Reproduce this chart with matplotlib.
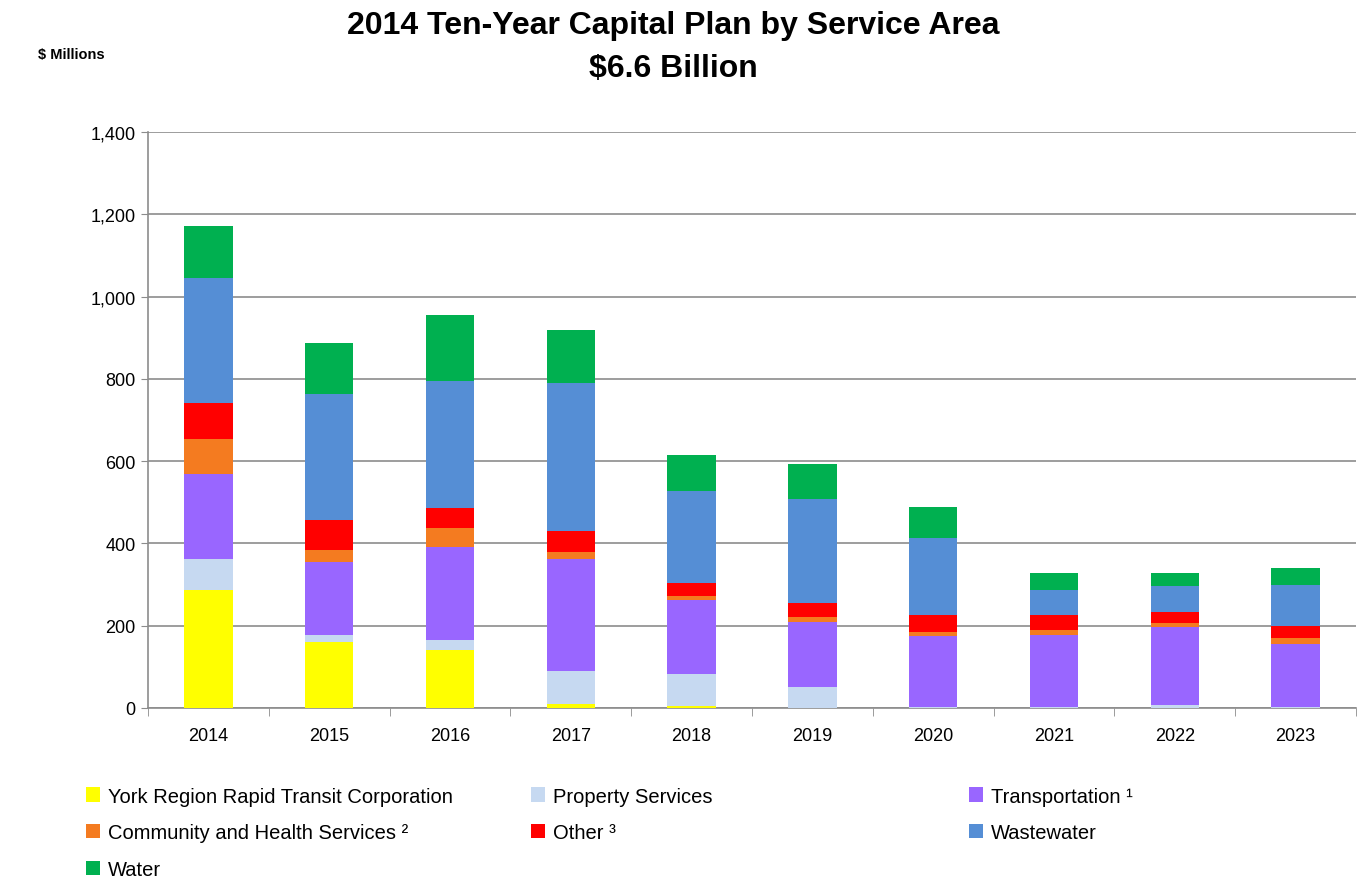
import matplotlib.pyplot as plt
import numpy as np

# 十年资本计划（百万加元），按服务领域分类
years = ['2014', '2015', '2016', '2017', '2018', '2019', '2020', '2021', '2022', '2023']
yrrtc = [287, 161, 141, 10, 6, 0, 0, 0, 0, 0]
property_services = [74, 17, 24, 79, 77, 50, 3, 3, 7, 3]
transportation = [208, 176, 226, 272, 180, 160, 171, 175, 189, 153]
community_health = [84, 29, 46, 18, 8, 11, 10, 12, 10, 15]
other = [89, 73, 49, 52, 32, 34, 41, 35, 27, 29]
wastewater = [302, 306, 310, 359, 224, 254, 188, 62, 64, 99]
water = [127, 125, 159, 128, 87, 83, 75, 40, 30, 41]

series = [
    ('York Region Rapid Transit Corporation', yrrtc, '#FFFF00'),
    ('Property Services', property_services, '#C6D9F1'),
    ('Transportation \u00b9', transportation, '#9966FF'),
    ('Community and Health Services \u00b2', community_health, '#F47B20'),
    ('Other \u00b3', other, '#FF0000'),
    ('Wastewater', wastewater, '#558ED5'),
    ('Water', water, '#00B050'),
]

plt.rcParams['font.family'] = ['Liberation Sans', 'DejaVu Sans']

fig = plt.figure(figsize=(13.61, 8.78), dpi=100)
ax = fig.add_axes([0.1087, 0.1925, 0.8876, 0.656])

x = np.arange(len(years))
bottom = np.zeros(len(years))
handles = {}
for name, vals, color in series:
    bars = ax.bar(x, vals, 0.4, bottom=bottom, color=color, label=name, zorder=3)
    handles[name] = bars
    bottom += np.array(vals)

ax.set_xlim(-0.5, len(years) - 0.5)
ax.set_ylim(0, 1400)
ax.set_yticks(range(0, 1401, 200))
ax.set_yticklabels([f'{v:,}' for v in range(0, 1401, 200)], fontsize=13)
ax.set_xticks(x)
ax.set_xticklabels(years, fontsize=13)
ax.tick_params(axis='x', length=0, pad=14)
ax.tick_params(axis='y', length=5, color='#8C8C8C', pad=4)
# 类别分隔刻度
ax.set_xticks(np.arange(-0.5, len(years)), minor=True)
ax.tick_params(axis='x', which='minor', length=6, color='#8C8C8C')
ax.grid(axis='y', color='#8C8C8C', linewidth=1.2, zorder=0)
for s in ['top', 'right']:
    ax.spines[s].set_visible(False)
ax.spines['left'].set_color('#8C8C8C')
ax.spines['bottom'].set_color('#8C8C8C')
ax.spines['left'].set_linewidth(1.2)
ax.spines['bottom'].set_linewidth(1.2)

# 标题和单位
fig.text(0.495, 0.988, '2014 Ten-Year Capital Plan by Service Area\n$6.6 Billion',
         ha='center', va='top', fontsize=23, fontweight='bold', linespacing=1.6)
fig.text(0.028, 0.937, '$ Millions', ha='left', va='center', fontsize=10.5, fontweight='bold')

# 图例分三列摆放
columns = [
    (0.063, ['York Region Rapid Transit Corporation', 'Community and Health Services \u00b2', 'Water']),
    (0.390, ['Property Services', 'Other \u00b3']),
    (0.712, ['Transportation \u00b9', 'Wastewater']),
]
for xpos, names in columns:
    fig.legend([handles[n] for n in names], names, loc='upper left',
               bbox_to_anchor=(xpos, 0.103), frameon=False, fontsize=14.5,
               handlelength=0.7, handleheight=0.7, handletextpad=0.4, labelspacing=0.88,
               borderaxespad=0, borderpad=0)

plt.savefig('out.png', dpi=100)
